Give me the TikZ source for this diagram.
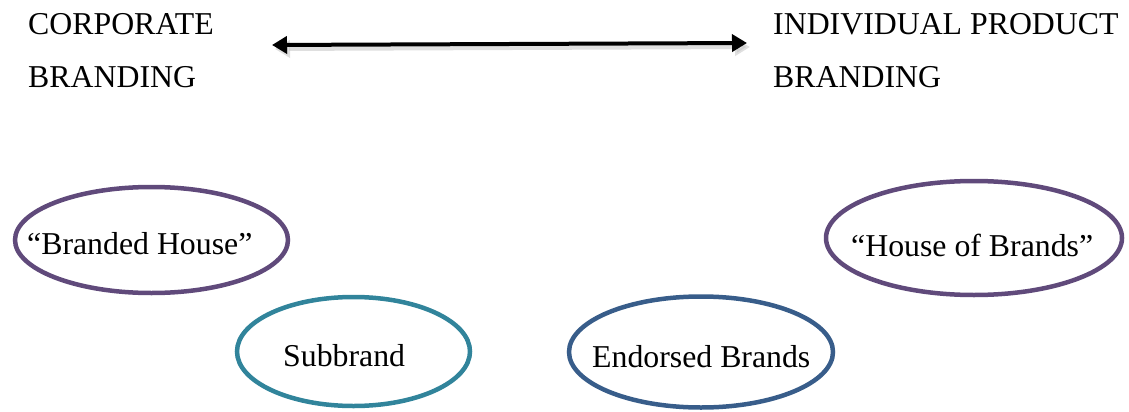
\documentclass[tikz,border=0pt]{standalone}
\usepackage{fontspec}
\setmainfont{Liberation Serif}
\usetikzlibrary{shapes.geometric,arrows.meta}
\definecolor{purp}{HTML}{604A7B}
\definecolor{teal2}{HTML}{31849B}
\definecolor{blue2}{HTML}{385D8A}
\begin{document}
\begin{tikzpicture}[x=1pt,y=-1pt,
  lbl/.style={anchor=base west,inner sep=0pt,font=\fontsize{31.8}{38}\selectfont},
  oval/.style={ellipse,draw,line width=4.5pt,inner sep=0pt}]
\useasboundingbox (0,0) rectangle (1129,412);
% top labels
\node[lbl] (corp1) at (28,35) {CORPORATE};
\node[lbl] (corp2) at (28,88) {BRANDING};
\node[lbl] (ind1) at (773,35) {INDIVIDUAL PRODUCT};
\node[lbl] (ind2) at (773,88) {BRANDING};
% arrow
\coordinate (aL) at (272,45);
\coordinate (aR) at (747,43);
\coordinate (sL) at (275,49);
\coordinate (sR) at (750,47);
\draw[line width=4pt,black!25,opacity=0.5,{Triangle[length=15pt,width=17pt]}-{Triangle[length=15pt,width=17pt]}] (sL) -- (sR);
\draw[line width=4pt,black,{Triangle[length=15pt,width=17pt]}-{Triangle[length=15pt,width=17pt]}] (aL) -- (aR);
% ellipses
\node[oval,purp,minimum width=273pt,minimum height=106pt] (bh) at (151.5,240) {};
\node[oval,teal2,minimum width=233pt,minimum height=109pt] (sb) at (353.5,351.5) {};
\node[oval,blue2,minimum width=264pt,minimum height=111pt] (eb) at (701,352) {};
\node[oval,purp,minimum width=296pt,minimum height=114pt] (hb) at (974,238) {};
% ellipse texts
\node[lbl] (bht) at (27,254) {“Branded House”};
\node[lbl] (sbt) at (283,366) {Subbrand};
\node[lbl] (ebt) at (592,367) {Endorsed Brands};
\node[lbl] (hbt) at (851,256) {“House of Brands”};
\end{tikzpicture}
\end{document}
